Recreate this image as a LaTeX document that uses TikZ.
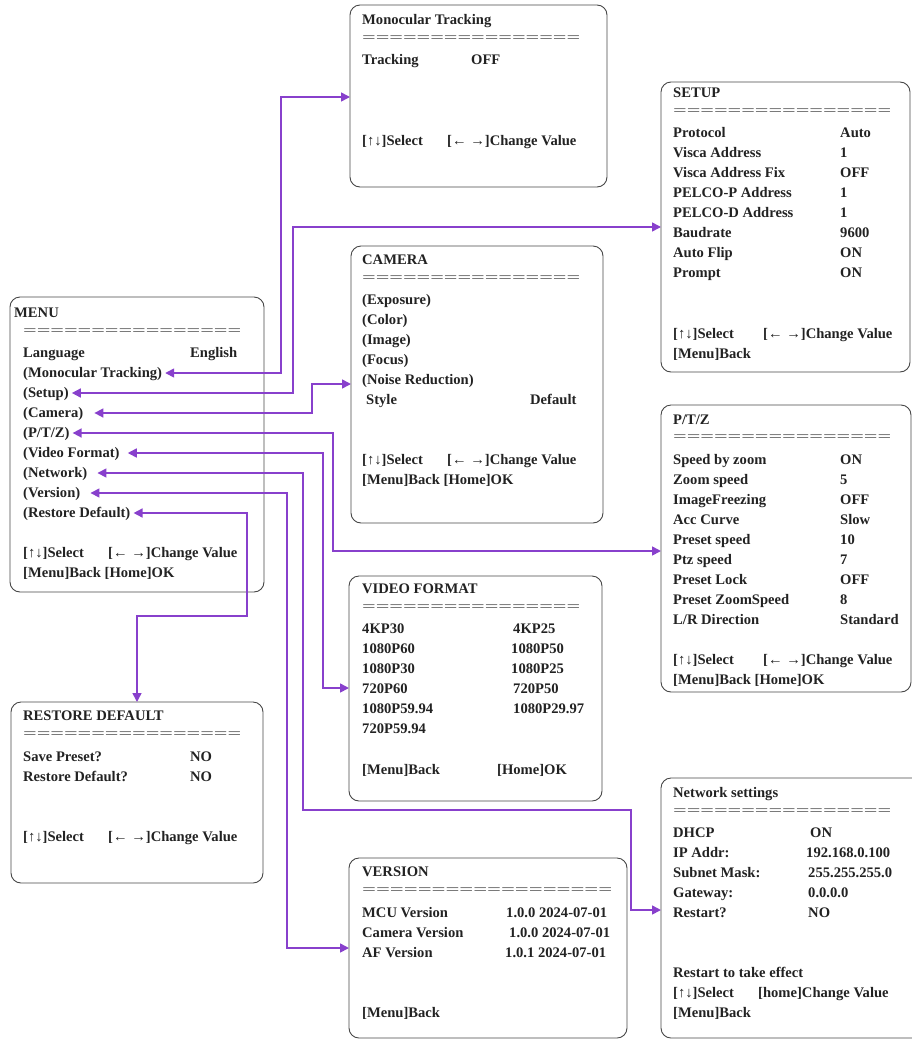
\documentclass[tikz,border=0pt]{standalone}
\usepackage{fontspec}
\setmainfont{Liberation Serif}
\usepackage{graphicx}
\usetikzlibrary{arrows.meta}
\definecolor{linkc}{RGB}{136,64,204}
\definecolor{boxc}{RGB}{70,70,70}
\definecolor{txtc}{RGB}{34,34,34}
\newcommand\eqrow[2]{\resizebox{#1}{\height}{#2}}
\begin{document}
\begin{tikzpicture}[x=1pt,y=-1pt,
 panel/.style={draw=boxc, line width=0.9pt, rounded corners=10pt, inner sep=0pt, outer sep=0pt, anchor=north west},
 txt/.style={font=\fontsize{14.6}{17}\selectfont\bfseries, text=txtc, inner sep=0pt, anchor=west, text height=10.5pt, text depth=2.5pt},
 eqs/.style={font=\fontsize{14.6}{17}\selectfont, text=boxc, inner sep=0pt, anchor=west},
 link/.style={draw=linkc, line width=1.6pt, {Triangle[length=9pt,width=9pt]}-{Triangle[length=9pt,width=9pt]}, shorten <=3pt}]
\useasboundingbox (0,0) rectangle (912,1039);
\clip (0,0) rectangle (912,1039);

% ---------- panels ----------
\node[panel, minimum width=254pt, minimum height=295pt] (menu) at (10,297) {};
\node[panel, minimum width=257pt, minimum height=182pt] (mono) at (350,5) {};
\node[panel, minimum width=249pt, minimum height=290pt] (setup) at (661,82) {};
\node[panel, minimum width=252pt, minimum height=277pt] (cam) at (351,246) {};
\node[panel, minimum width=250pt, minimum height=287pt] (ptz) at (661,405) {};
\node[panel, minimum width=253pt, minimum height=225pt] (vid) at (349,576) {};
\node[panel, minimum width=252pt, minimum height=181pt] (rst) at (11,702) {};
\node[panel, minimum width=278pt, minimum height=180pt] (ver) at (349,858) {};
\node[panel, minimum width=270pt, minimum height=260pt] (net) at (661,778) {};

% ---------- MENU ----------
\node[txt] (mT) at (14,313) {MENU};
\node[eqs] (mE) at (23,332) {\eqrow{218pt}{================}};
\node[txt] (mL) at (23,353) {Language};
\node[txt] (mLv) at (190,353) {English};
\node[txt] (iMono) at (23,373) {(Monocular Tracking)};
\node[txt] (iSetup) at (23,393) {(Setup)};
\node[txt] (iCam) at (23,413) {(Camera)};
\node[txt] (iPTZ) at (23,433) {(P/T/Z)};
\node[txt] (iVid) at (23,453) {(Video Format)};
\node[txt] (iNet) at (23,473) {(Network)};
\node[txt] (iVer) at (23,493) {(Version)};
\node[txt] (iRes) at (23,513) {(Restore Default)};
\node[txt] (mS) at (23,553) {[↑↓]Select};
\node[txt] (mC) at (108,553) {[← →]Change Value};
\node[txt] (mB) at (23,573) {[Menu]Back [Home]OK};

% ---------- Monocular Tracking ----------
\node[txt] (oT) at (362,20) {Monocular Tracking};
\node[eqs] (oE) at (362,39) {\eqrow{218pt}{================}};
\node[txt] (o1) at (362,60) {Tracking};
\node[txt] (o1v) at (471,60) {OFF};
\node[txt] (oS) at (362,141) {[↑↓]Select};
\node[txt] (oC) at (447,141) {[← →]Change Value};

% ---------- SETUP ----------
\node[txt] (sT) at (673,93) {SETUP};
\node[eqs] (sE) at (673,112) {\eqrow{218pt}{================}};
\node[txt] (s1) at (673,133) {Protocol};          \node[txt] (s1v) at (840,133) {Auto};
\node[txt] (s2) at (673,153) {Visca Address};     \node[txt] (s2v) at (840,153) {1};
\node[txt] (s3) at (673,173) {Visca Address Fix}; \node[txt] (s3v) at (840,173) {OFF};
\node[txt] (s4) at (673,193) {PELCO-P Address};   \node[txt] (s4v) at (840,193) {1};
\node[txt] (s5) at (673,213) {PELCO-D Address};   \node[txt] (s5v) at (840,213) {1};
\node[txt] (s6) at (673,233) {Baudrate};          \node[txt] (s6v) at (840,233) {9600};
\node[txt] (s7) at (673,253) {Auto Flip};         \node[txt] (s7v) at (840,253) {ON};
\node[txt] (s8) at (673,273) {Prompt};            \node[txt] (s8v) at (840,273) {ON};
\node[txt] (sS) at (673,334) {[↑↓]Select};
\node[txt] (sC) at (763,334) {[← →]Change Value};
\node[txt] (sB) at (673,354) {[Menu]Back};

% ---------- CAMERA ----------
\node[txt] (cT) at (362,260) {CAMERA};
\node[eqs] (cE) at (362,279) {\eqrow{218pt}{================}};
\node[txt] (c1) at (362,300) {(Exposure)};
\node[txt] (c2) at (362,320) {(Color)};
\node[txt] (c3) at (362,340) {(Image)};
\node[txt] (c4) at (362,360) {(Focus)};
\node[txt] (c5) at (362,380) {(Noise Reduction)};
\node[txt] (c6) at (366,400) {Style};
\node[txt] (c6v) at (530,400) {Default};
\node[txt] (cS) at (362,460) {[↑↓]Select};
\node[txt] (cC) at (447,460) {[← →]Change Value};
\node[txt] (cB) at (362,480) {[Menu]Back [Home]OK};

% ---------- P/T/Z ----------
\node[txt] (pT) at (673,420) {P/T/Z};
\node[eqs] (pE) at (673,438) {\eqrow{218pt}{================}};
\node[txt] (p1) at (673,460) {Speed by zoom};      \node[txt] (p1v) at (840,460) {ON};
\node[txt] (p2) at (673,480) {Zoom speed};         \node[txt] (p2v) at (840,480) {5};
\node[txt] (p3) at (673,500) {ImageFreezing};      \node[txt] (p3v) at (840,500) {OFF};
\node[txt] (p4) at (673,520) {Acc Curve};          \node[txt] (p4v) at (840,520) {Slow};
\node[txt] (p5) at (673,540) {Preset speed};       \node[txt] (p5v) at (840,540) {10};
\node[txt] (p6) at (673,560) {Ptz speed};          \node[txt] (p6v) at (840,560) {7};
\node[txt] (p7) at (673,580) {Preset Lock};        \node[txt] (p7v) at (840,580) {OFF};
\node[txt] (p8) at (673,600) {Preset ZoomSpeed};   \node[txt] (p8v) at (840,600) {8};
\node[txt] (p9) at (673,620) {L/R Direction};      \node[txt] (p9v) at (840,620) {Standard};
\node[txt] (pS) at (673,660) {[↑↓]Select};
\node[txt] (pC) at (763,660) {[← →]Change Value};
\node[txt] (pB) at (673,680) {[Menu]Back [Home]OK};

% ---------- VIDEO FORMAT ----------
\node[txt] (vT) at (362,589) {VIDEO FORMAT};
\node[eqs] (vE) at (362,608) {\eqrow{218pt}{================}};
\node[txt] (v1) at (362,629) {4KP30};      \node[txt] (v1v) at (513,629) {4KP25};
\node[txt] (v2) at (362,649) {1080P60};    \node[txt] (v2v) at (511,649) {1080P50};
\node[txt] (v3) at (362,669) {1080P30};    \node[txt] (v3v) at (511,669) {1080P25};
\node[txt] (v4) at (362,689) {720P60};     \node[txt] (v4v) at (513,689) {720P50};
\node[txt] (v5) at (362,709) {1080P59.94}; \node[txt] (v5v) at (513,709) {1080P29.97};
\node[txt] (v6) at (362,729) {720P59.94};
\node[txt] (vB) at (362,770) {[Menu]Back};
\node[txt] (vO) at (497,770) {[Home]OK};

% ---------- RESTORE DEFAULT ----------
\node[txt] (rT) at (23,716) {RESTORE DEFAULT};
\node[eqs] (rE) at (23,735) {\eqrow{218pt}{================}};
\node[txt] (r1) at (23,757) {Save Preset?};     \node[txt] (r1v) at (190,757) {NO};
\node[txt] (r2) at (23,777) {Restore Default?}; \node[txt] (r2v) at (190,777) {NO};
\node[txt] (rS) at (23,837) {[↑↓]Select};
\node[txt] (rC) at (108,837) {[← →]Change Value};

% ---------- VERSION ----------
\node[txt] (eT) at (362,872) {VERSION};
\node[eqs] (eE) at (362,891) {\eqrow{250pt}{==================}};
\node[txt] (e1) at (362,913) {MCU Version};    \node[txt] (e1v) at (506,913) {1.0.0 2024-07-01};
\node[txt] (e2) at (362,933) {Camera Version}; \node[txt] (e2v) at (509,933) {1.0.0 2024-07-01};
\node[txt] (e3) at (362,953) {AF Version};     \node[txt] (e3v) at (505,953) {1.0.1 2024-07-01};
\node[txt] (eB) at (362,1013) {[Menu]Back};

% ---------- Network settings ----------
\node[txt] (nT) at (673,793) {Network settings};
\node[eqs] (nE) at (673,812) {\eqrow{218pt}{================}};
\node[txt] (n1) at (673,833) {DHCP};         \node[txt] (n1v) at (810,833) {ON};
\node[txt] (n2) at (673,853) {IP Addr:};     \node[txt] (n2v) at (806,853) {192.168.0.100};
\node[txt] (n3) at (673,873) {Subnet Mask:}; \node[txt] (n3v) at (808,873) {255.255.255.0};
\node[txt] (n4) at (673,893) {Gateway:};     \node[txt] (n4v) at (808,893) {0.0.0.0};
\node[txt] (n5) at (673,913) {Restart?};     \node[txt] (n5v) at (808,913) {NO};
\node[txt] (n6) at (673,973) {Restart to take effect};
\node[txt] (nS) at (673,993) {[↑↓]Select};
\node[txt] (nC) at (758,993) {[home]Change Value};
\node[txt] (nB) at (673,1013) {[Menu]Back};

% ---------- connectors ----------
\coordinate (b1) at (281,97);
\coordinate (b2) at (293,227);
\coordinate (b3) at (312,384);
\coordinate (b4) at (333,551);
\coordinate (b5) at (323,688);
\coordinate (b6) at (303,810);
\coordinate (b7) at (631,910);
\coordinate (b8) at (287,948);
\coordinate (b9) at (247,616);

\draw[link] (iMono.east) -| (b1) -- (mono.west |- b1);
\draw[link] (iSetup.east) -| (b2) -- (setup.west |- b2);
\draw[link, shorten <=11pt] (iCam.east) -| (b3) -- (cam.west |- b3);
\draw[link] (iPTZ.east) -| (b4) -- (ptz.west |- b4);
\draw[link, shorten <=8pt] (iVid.east) -| (b5) -- (vid.west |- b5);
\draw[link, shorten <=10pt] (iNet.east) -| (b6) -| (b7) -- (net.west |- b7);
\draw[link, shorten <=10pt] (iVer.east) -| (b8) -- (ver.west |- b8);
\draw[link] (iRes.east) -| (b9) -| (rst.north);
\end{tikzpicture}
\end{document}
